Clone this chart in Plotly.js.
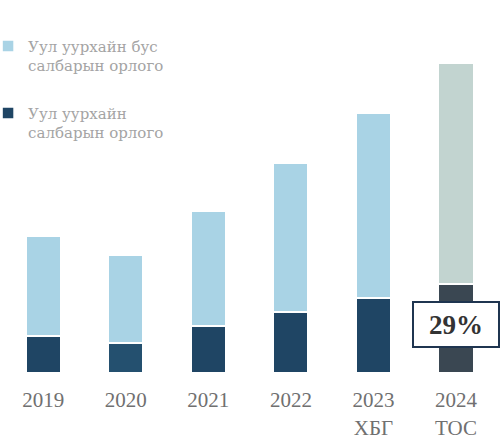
<!DOCTYPE html>
<html>
<head>
<meta charset="utf-8">
<script src="https://cdn.plot.ly/plotly-3.0.1.min.js"></script>
<style>
  html, body { margin: 0; padding: 0; background: #ffffff; }
  #chart { width: 500px; height: 441px; }
</style>
</head>
<body>
<div id="chart"></div>
<script>
// Categories (years; last two are estimate / projection)
var categories = ['2019', '2020', '2021', '2022', '2023<br>ХБГ', '2024<br>ТОС'];

// Revenue (relative units)
var miningRevenue    = [3.7, 3.0, 4.7, 6.1, 7.5, 8.9];
var nonMiningRevenue = [10.0, 8.8, 11.5, 14.9, 18.5, 22.1];

// Series names
var miningName    = 'Уул уурхайн<br>салбарын орлого';
var nonMiningName = 'Уул уурхайн бус<br>салбарын орлого';

// Highlighted share for the last year
var shareLabel = '29%';
var shareCategory = '2024<br>ТОС';
var shareY = 4.85;

// Colours per bar (last bar is drawn in grey tones)
var miningColors    = ['#1f4564', '#24506f', '#1f4564', '#1f4564', '#1f4564', '#3a4752'];
var nonMiningColors = ['#a9d3e5', '#a9d3e5', '#a9d3e5', '#a9d3e5', '#a9d3e5', '#c2d4d0'];

var traces = [
  {
    type: 'bar',
    name: miningName,
    x: categories,
    y: miningRevenue,
    legendgroup: 'm',
    legendrank: 2,
    marker: { color: miningColors, line: { color: '#ffffff', width: 1.5 } },
    hoverinfo: 'x+y+name'
  },
  {
    type: 'bar',
    name: nonMiningName,
    x: categories,
    y: nonMiningRevenue,
    legendgroup: 'n',
    legendrank: 1,
    marker: { color: nonMiningColors, line: { color: '#ffffff', width: 1.5 } },
    hoverinfo: 'x+y+name'
  }
];

var layout = {
  width: 500,
  height: 441,
  margin: { l: 2, r: 0, t: 0, b: 68, autoexpand: false },
  paper_bgcolor: '#ffffff',
  plot_bgcolor: '#ffffff',
  barmode: 'stack',
  bargap: 0.58,
  showlegend: true,
  legend: {
    x: -0.028, xanchor: 'left',
    y: 0.92, yanchor: 'top',
    traceorder: 'grouped',
    tracegroupgap: 25,
    valign: 'top',
    bgcolor: 'rgba(0,0,0,0)',
    font: { family: 'DejaVu Serif', size: 15, color: '#a4a4a4' }
  },
  xaxis: {
    type: 'category',
    automargin: false,
    showgrid: false,
    zeroline: false,
    showline: false,
    ticks: 'outside',
    ticklen: 8,
    tickcolor: 'rgba(0,0,0,0)',
    tickfont: { family: 'Liberation Serif', size: 21, color: '#707070' }
  },
  yaxis: {
    range: [0, 37.3],
    visible: false,
    showgrid: false,
    zeroline: false
  },
  annotations: [
    {
      x: shareCategory,
      y: shareY,
      xref: 'x', yref: 'y',
      text: '<b>' + shareLabel + '</b>',
      showarrow: false,
      width: 82,
      height: 41,
      bgcolor: '#ffffff',
      bordercolor: '#1f3550',
      borderwidth: 2,
      font: { family: 'Liberation Serif', size: 27, color: '#333333' }
    }
  ]
};

Plotly.newPlot('chart', traces, layout, { displayModeBar: false, staticPlot: true });
</script>
</body>
</html>
